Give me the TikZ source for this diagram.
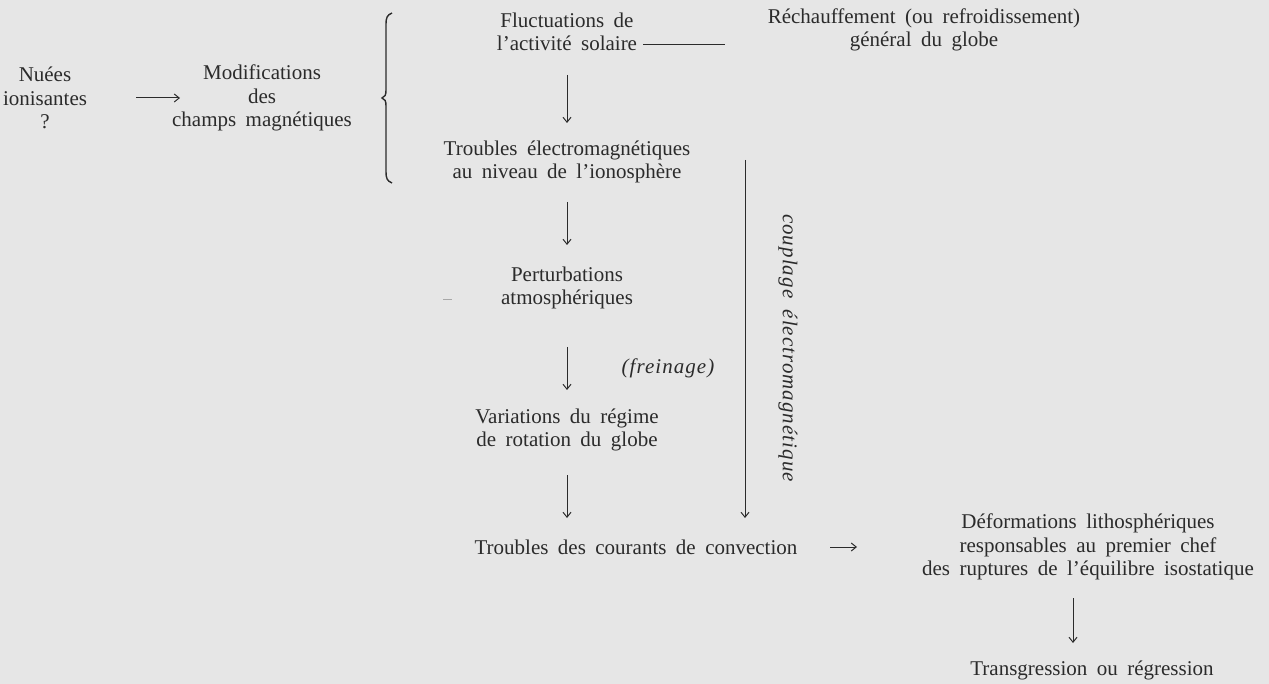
\documentclass[tikz,border=0pt]{standalone}
\usepackage{fontspec}
\setmainfont{Liberation Serif}[WordSpace=1.8]
\usetikzlibrary{arrows.meta}
\definecolor{bg}{HTML}{E6E6E6}
\definecolor{ink}{HTML}{2B2B2B}
\definecolor{smudge}{HTML}{A8A8A8}
\begin{document}
\begin{tikzpicture}[x=1pt,y=-1pt,
  txt/.style={align=center,text=ink,font=\fontsize{21}{23.5}\selectfont,inner sep=1pt},
  itx/.style={text=ink,font=\fontsize{21}{23.5}\selectfont\itshape\addfontfeature{LetterSpace=5},inner sep=1pt},
  arr/.style={draw=ink,line width=1pt,-{Straight Barb[length=5pt,width=8pt]}},
  ln/.style={draw=ink,line width=1pt}]
\fill[bg] (0,0) rectangle (1269,684);
\useasboundingbox (0,0) rectangle (1269,684);

\node[txt] (nuees) at (45,98) {Nuées\\ionisantes\\?};
\node[txt] (modif) at (262,98) {Modifications\\des\\champs magnétiques};
\node[txt] (fluct) at (567,32) {Fluctuations de\\l'activité solaire};
\node[txt] (rech) at (924,30) {Réchauffement (ou refroidissement)\\général du globe};
\node[txt] (troub1) at (567,162) {Troubles électromagnétiques\\au niveau de l'ionosphère};
\node[txt] (pert) at (567,288) {Perturbations\\atmosphériques};
\node[itx] (frein) at (668,368) {(freinage)};
\node[txt] (var) at (567,430) {Variations du régime\\de rotation du globe};
\node[txt] (troub2) at (636,547) {Troubles des courants de convection};
\node[itx,rotate=-90] (coup) at (788,348) {couplage électromagnétique};
\node[txt] (defo) at (1088,547) {Déformations lithosphériques\\responsables au premier chef\\des ruptures de l'équilibre isostatique};
\node[txt] (trans) at (1092,670) {Transgression ou régression};

% brace
\draw[ln,line width=1.4pt] (392,13) .. controls (387,15) and (386,18) .. (386,24)
  -- (386,90) .. controls (386,95) and (385,97) .. (382,98)
  .. controls (385,99) and (386,101) .. (386,106)
  -- (386,172) .. controls (386,178) and (387,181) .. (392,183);

% small mark left of "atmosphériques"
\draw[smudge,line width=0.8pt] (443,299) -- (452,299);

\draw[arr] (136,0 |- nuees) -- (180,0 |- nuees);
\draw[ln] (643,0 |- 0,45) -- (725,0 |- 0,45);
\draw[arr] (fluct.south |- 0,75) -- (troub1.north |- 0,123);
\draw[arr] (troub1.south |- 0,202) -- (pert.north |- 0,245);
\draw[arr] (pert.south |- 0,347) -- (var.north |- 0,390);
\draw[arr] (var.south |- 0,475) -- (var.south |- 0,518);
\coordinate (ctop) at (745,160);
\coordinate (cbot) at (745,518);
\draw[arr] (ctop) -- (cbot);
\draw[arr] (830,0 |- troub2) -- (857,0 |- troub2);
\draw[arr] (1073,0 |- 0,598) -- (1073,0 |- 0,643);
\end{tikzpicture}
\end{document}
